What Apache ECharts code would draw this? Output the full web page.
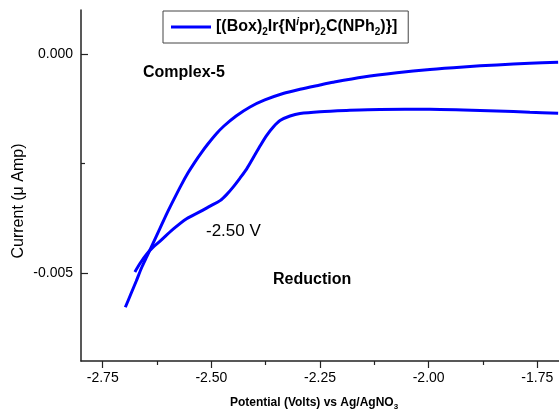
<!DOCTYPE html>
<html>
<head>
<meta charset="utf-8">
<script src="https://cdn.jsdelivr.net/npm/echarts@6/dist/echarts.min.js"></script>
<style>
  html, body { margin: 0; padding: 0; background: #fff; }
  #chart { width: 559px; height: 418px; }
</style>
</head>
<body>
<div id="chart"></div>
<script>
// Cathodic sweep: from -1.70 V towards more negative potential (reduction wave near -2.40 V)
const potentialSweepOut = [-1.702, -1.767, -1.843, -1.920, -1.997, -2.112, -2.189, -2.250, -2.296, -2.319,
  -2.342, -2.357, -2.373, -2.388, -2.404, -2.419, -2.434, -2.450, -2.465, -2.480,
  -2.503, -2.526, -2.557, -2.588, -2.618, -2.634, -2.649, -2.664, -2.676];
const currentSweepOut = [-0.001354, -0.001331, -0.001301, -0.001279, -0.001263, -0.001267, -0.001290, -0.001317, -0.001358, -0.001416,
  -0.001518, -0.001660, -0.001861, -0.002100, -0.002374, -0.002626, -0.002831, -0.003037, -0.003208, -0.003345,
  -0.003470, -0.003596, -0.003756, -0.003995, -0.004269, -0.004406, -0.004566, -0.004772, -0.004970];

// Return sweep: from -2.70 V back to -1.70 V
const potentialSweepBack = [-2.698, -2.686, -2.673, -2.661, -2.648, -2.634, -2.618, -2.602, -2.586, -2.570,
  -2.554, -2.538, -2.522, -2.508, -2.489, -2.471, -2.443, -2.411, -2.377, -2.335,
  -2.296, -2.250, -2.220, -2.150, -2.073, -1.997, -1.920, -1.843, -1.767, -1.702];
const currentSweepBack = [-0.005776, -0.005491, -0.005183, -0.004886, -0.004612, -0.004315, -0.003973, -0.003630, -0.003311, -0.003002,
  -0.002717, -0.002466, -0.002238, -0.002055, -0.001826, -0.001644, -0.001416, -0.001210, -0.001050, -0.000902,
  -0.000806, -0.000708, -0.000646, -0.000525, -0.000429, -0.000354, -0.000297, -0.000251, -0.000212, -0.000189];

// Axis ticks and labels
const xMajorTicks = [-2.75, -2.50, -2.25, -2.00, -1.75];
const xMinorTicks = [-2.625, -2.375, -2.125, -1.875];
const yMajorTicks = [0.000, -0.005];
const yMinorTicks = [-0.0025];

const seriesName = 'complex5';
const FONT = "'Liberation Sans', Arial, sans-serif";
const BLUE = '#0000ff';
const AXIS = '#222';

const toPairs = (xs, ys) => xs.map((x, i) => [x, ys[i]]);

const chart = echarts.init(document.getElementById('chart'), null, { renderer: 'canvas' });

const subStyle = { fontSize: 10, fontWeight: 'bold', fontFamily: FONT, color: '#000', verticalAlign: 'top', padding: [10, 0, 0, 0] };
const supStyle = { fontSize: 10, fontWeight: 'bold', fontStyle: 'italic', fontFamily: FONT, color: '#000', verticalAlign: 'top', padding: [0, 0, 0, 0] };

const curveStyle = {
  type: 'line', xAxisIndex: 0, yAxisIndex: 0,
  showSymbol: false, smooth: 0.3,
  lineStyle: { color: BLUE, width: 3 }, itemStyle: { color: BLUE }
};

const option = {
  animation: false,
  backgroundColor: '#fff',
  grid: { left: 81, right: 0, top: 10, bottom: 57, containLabel: false },
  legend: {
    left: 163, top: 11,
    data: [seriesName],
    icon: 'rect',
    itemWidth: 40, itemHeight: 3,
    itemGap: 0,
    padding: [6, 11, 6, 8],
    borderColor: '#444', borderWidth: 1,
    formatter: () => '[(Box){sub|2}Ir{N{sup|i}pr){sub|2}C(NPh{sub|2})}]',
    textStyle: {
      fontSize: 16, fontWeight: 'bold', fontFamily: FONT, color: '#000',
      rich: { sub: subStyle, sup: supStyle }
    }
  },
  xAxis: [
    {
      type: 'value', min: -2.80, max: -1.70,
      splitLine: { show: false },
      axisLine: { show: true, onZero: false, lineStyle: { color: AXIS, width: 1.5 } },
      axisTick: { show: true, customValues: xMajorTicks, length: 7, inside: false, lineStyle: { color: AXIS, width: 1.2 } },
      axisLabel: { customValues: xMajorTicks, formatter: v => v.toFixed(2), fontSize: 14, fontFamily: FONT, color: '#000', margin: 10 },
      name: 'Potential (Volts) vs Ag/AgNO{sub|3}',
      nameLocation: 'middle', nameGap: 34,
      nameTextStyle: {
        fontSize: 12, fontWeight: 'bold', fontFamily: FONT, color: '#000',
        padding: [0, 12, 0, 0],
        rich: { sub: Object.assign({}, subStyle, { fontSize: 8, padding: [8, 0, 0, 0] }) }
      }
    },
    {
      type: 'value', min: -2.80, max: -1.70, position: 'bottom',
      splitLine: { show: false },
      axisLine: { show: false, onZero: false },
      axisTick: { show: true, customValues: xMinorTicks, length: 4, lineStyle: { color: AXIS, width: 1.2 } },
      axisLabel: { show: false }
    }
  ],
  yAxis: [
    {
      type: 'value', min: -0.007, max: 0.001,
      splitLine: { show: false },
      axisLine: { show: true, onZero: false, lineStyle: { color: AXIS, width: 1.5 } },
      axisTick: { show: true, customValues: yMajorTicks, length: 7, inside: true, lineStyle: { color: AXIS, width: 1.2 } },
      axisLabel: { customValues: yMajorTicks, formatter: v => v.toFixed(3), fontSize: 14, fontFamily: FONT, color: '#000', margin: 8 }
    },
    {
      type: 'value', min: -0.007, max: 0.001, position: 'left',
      splitLine: { show: false },
      axisLine: { show: false, onZero: false },
      axisTick: { show: true, customValues: yMinorTicks, length: 4, inside: true, lineStyle: { color: AXIS, width: 1.2 } },
      axisLabel: { show: false }
    }
  ],
  series: [
    Object.assign({ name: seriesName, data: toPairs(potentialSweepOut, currentSweepOut) }, curveStyle),
    Object.assign({ name: seriesName, data: toPairs(potentialSweepBack, currentSweepBack) }, curveStyle)
  ],
  graphic: [
    {
      type: 'text', x: 19, y: 201, rotation: Math.PI / 2,
      style: { text: 'Current (\u03bc Amp)', font: "16px " + FONT, fill: '#000', align: 'center', verticalAlign: 'middle' }
    },
    { type: 'text', left: 143, top: 65, style: { text: 'Complex-5', font: "bold 16px " + FONT, fill: '#000' } },
    { type: 'text', left: 206, top: 223, style: { text: '-2.50 V', font: "17px " + FONT, fill: '#000' } },
    { type: 'text', left: 273, top: 272, style: { text: 'Reduction', font: "bold 16px " + FONT, fill: '#000' } }
  ]
};

chart.setOption(option);
</script>
</body>
</html>
